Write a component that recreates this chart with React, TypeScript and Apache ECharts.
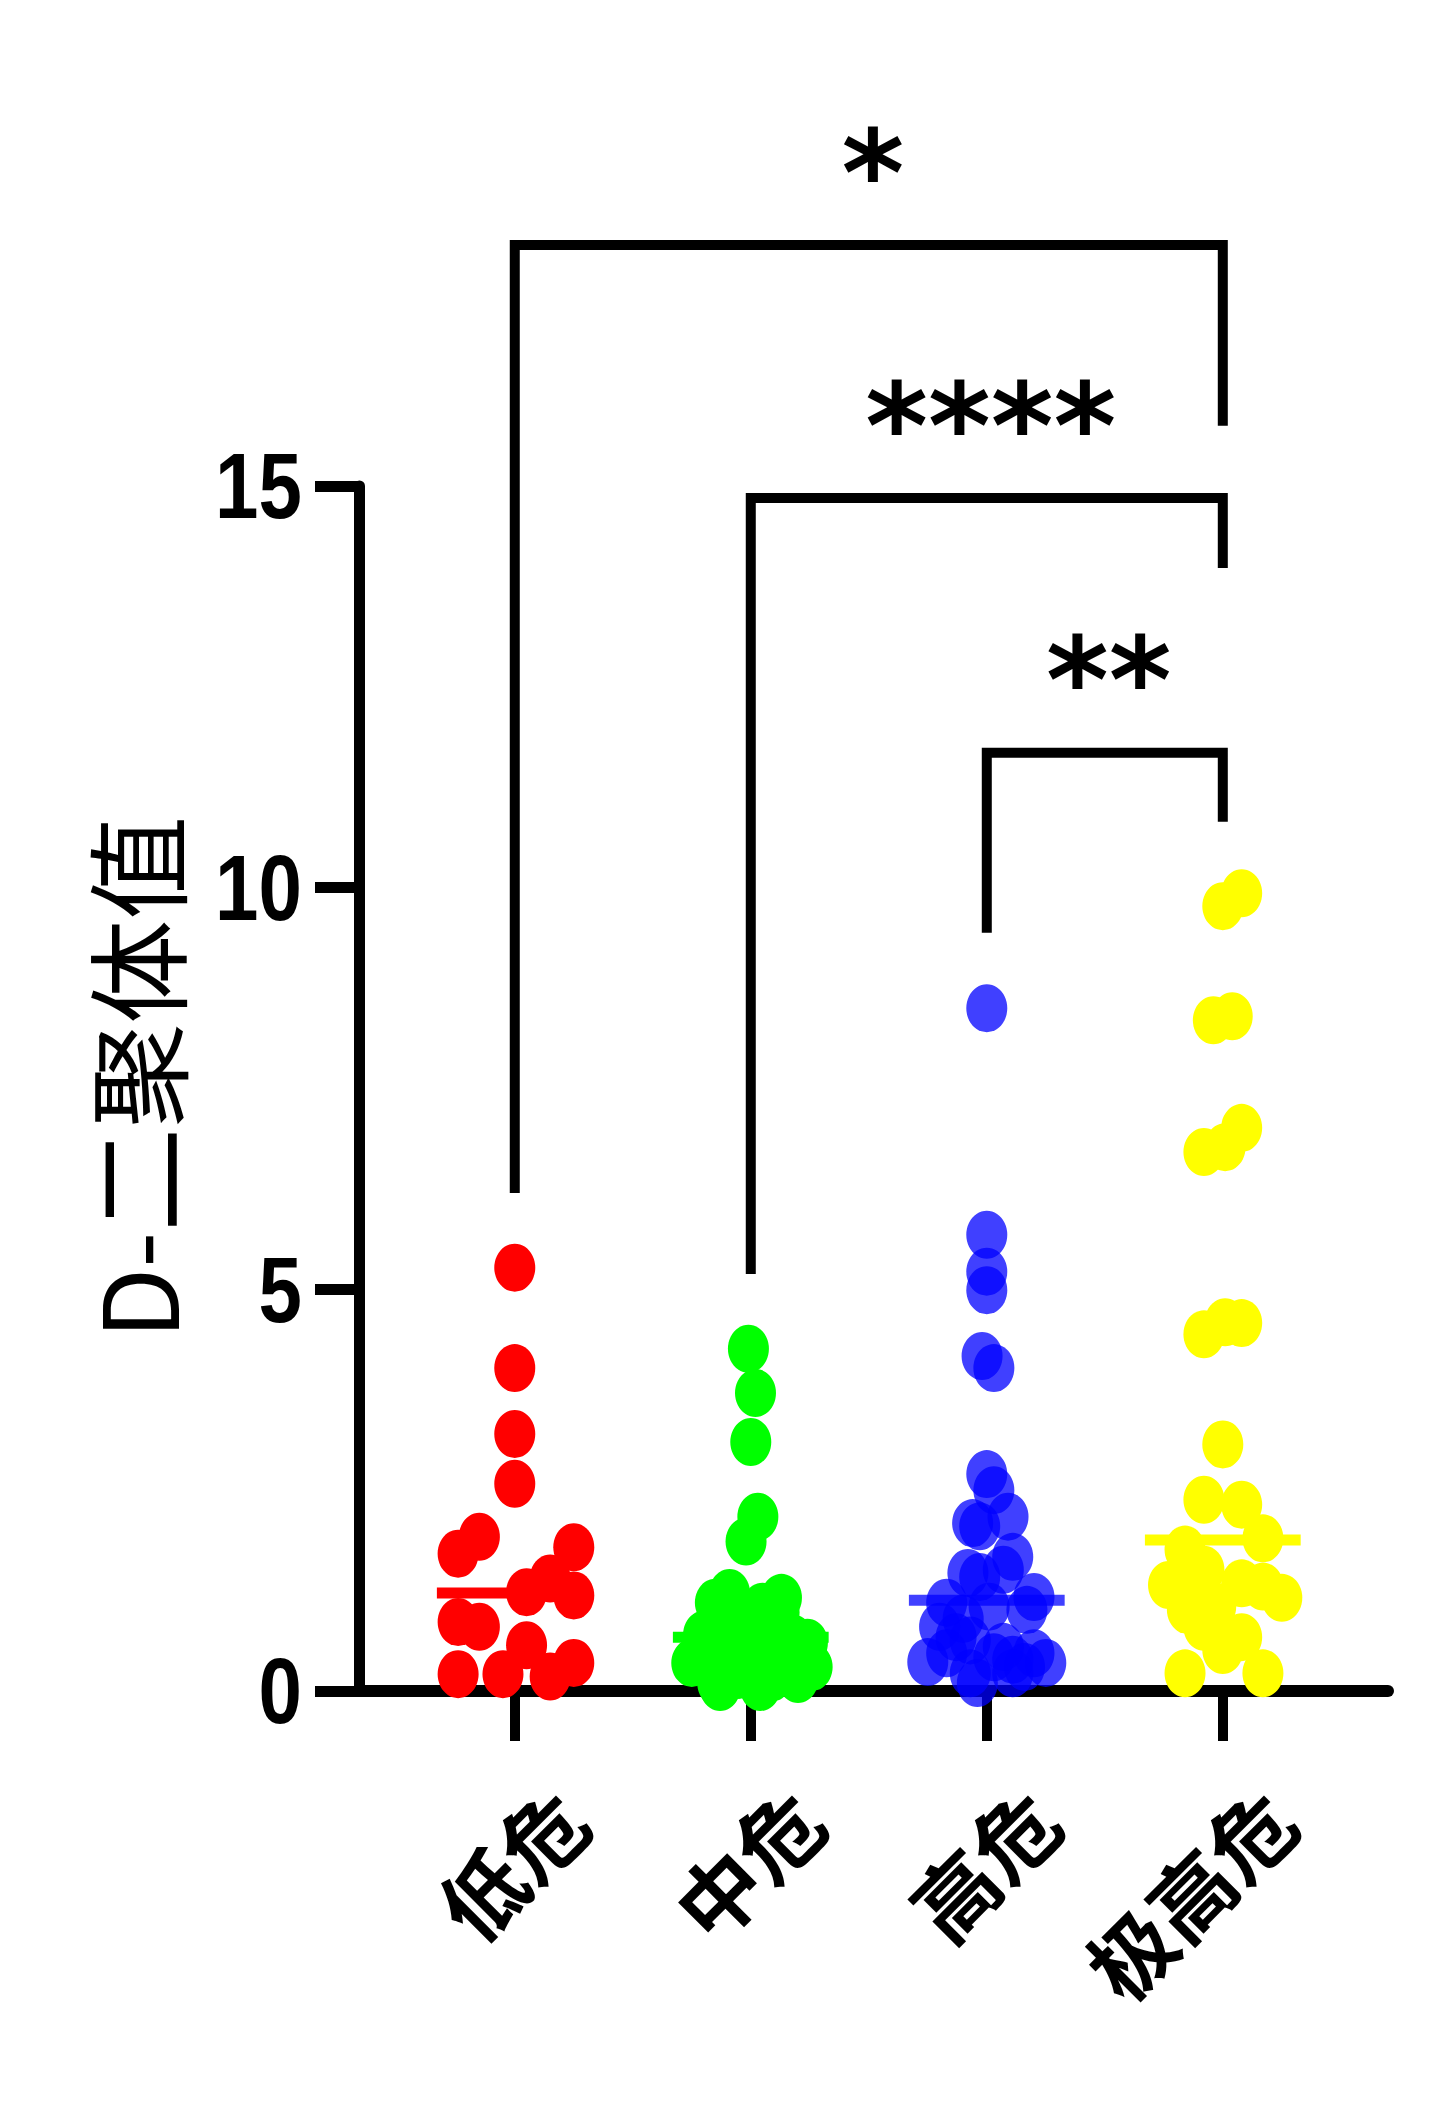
import React, { useEffect, useRef } from 'react';
import * as echarts from 'echarts';

const categories = ['低危', '中危', '高危', '极高危'];
const groupColors = ['#ff0000', '#00ff00', '#0000ff', '#ffff00'];
const groupOpacity = [1, 1, 0.75, 1];

// D-dimer values per group, with horizontal jitter (in category units)
const lowValues = [5.27, 4.02, 3.2, 2.58, 1.92, 1.71, 1.79, 1.4, 1.23, 1.19, 0.86, 0.8, 0.57, 0.21, 0.21, 0.18, 0.35];
const lowJitter = [0, 0, 0, 0, -0.15, -0.24, 0.25, 0.15, 0.05, 0.25, -0.24, -0.15, 0.05, -0.24, -0.05, 0.15, 0.25];

const midValues = [4.26, 3.71, 3.1, 2.17, 1.86, 1.22, 1.16, 1.1, 1.05, 0.98, 0.92, 0.85, 0.8, 0.75, 0.7, 0.65, 0.6, 0.55, 0.5, 0.45, 0.4, 0.35, 0.3, 0.25, 0.2, 0.17, 0.15, 0.1, 0.05, 0.05];
const midJitter = [-0.01, 0.02, 0, 0.03, -0.02, -0.09, 0.13, -0.15, 0.05, 0.12, -0.05, 0.02, -0.12, 0.08, -0.2, 0.18, 0.24, -0.1, 0, 0.1, -0.22, -0.25, 0.26, 0.15, -0.05, 0.09, 0.2, -0.14, -0.13, 0.04];

const highValues = [8.5, 5.68, 5.22, 4.99, 4.17, 4.02, 2.7, 2.5, 2.17, 2.09, 2.05, 1.67, 1.51, 1.47, 1.42, 1.17, 1.1, 1.05, 1.01, 0.9, 0.8, 0.67, 0.63, 0.55, 0.47, 0.47, 0.42, 0.39, 0.36, 0.35, 0.3, 0.22, 0.22, 0.1];
const highJitter = [0, 0, 0, 0, -0.02, 0.03, 0, 0.03, 0.09, -0.06, -0.03, 0.11, 0.07, -0.08, -0.03, 0.2, -0.17, 0.01, 0.17, -0.1, -0.2, -0.13, -0.07, 0.07, -0.17, 0.2, 0.03, 0.11, -0.25, 0.25, 0.16, -0.07, 0.11, -0.04];

const veryHighValues = [9.93, 9.77, 8.4, 8.35, 7.01, 6.77, 6.71, 4.59, 4.58, 4.44, 3.07, 2.38, 2.32, 1.9, 1.76, 1.51, 1.34, 1.32, 1.3, 1.16, 1.05, 1.01, 0.8, 0.67, 0.51, 0.22, 0.22];
const veryHighJitter = [0.08, 0, 0.04, -0.04, 0.08, 0.01, -0.08, 0.01, 0.08, -0.08, 0, -0.08, 0.08, 0.17, -0.16, -0.08, 0.08, -0.23, 0.17, 0.25, -0.03, -0.15, -0.08, 0.08, 0, -0.16, 0.17];

const groupValues = [lowValues, midValues, highValues, veryHighValues];
const groupJitter = [lowJitter, midJitter, highJitter, veryHighJitter];

// median line per group
const medians = [1.22, 0.67, 1.13, 1.88];
const medianHalfWidth = 0.33;

// y axis ticks
const yMin = 0;
const yMax = 15;
const yStep = 5;
const yTickLabels = ['0', '5', '10', '15'];
const yTickValues = [0, 5, 10, 15];

// x axis range (category index units)
const xMin = -0.66;
const xMax = 3.7;

// significance brackets
const bracketFrom = [0, 1, 2];
const bracketTo = [3, 3, 3];
const bracketTop = [18.0, 14.85, 11.68];
const bracketLeftEnd = [6.2, 5.19, 9.44];
const bracketRightEnd = [15.75, 13.98, 10.82];
const bracketStars = ['*', '****', '**'];

export default function App() {
  const ref = useRef<HTMLDivElement>(null);

  useEffect(() => {
    if (!ref.current) return;
    const chart = echarts.init(ref.current, undefined, { renderer: 'svg' });

    const series: any[] = [];

    groupValues.forEach((vals, gi) => {
      series.push({
        type: 'scatter',
        name: categories[gi],
        data: vals.map((v, i) => [gi + groupJitter[gi][i], v]),
        symbol: 'circle',
        symbolSize: [41, 48],
        itemStyle: { color: groupColors[gi], opacity: groupOpacity[gi] },
        z: 3,
        clip: false,
      });
    });

    medians.forEach((m, gi) => {
      series.push({
        type: 'line',
        data: [
          [gi - medianHalfWidth, m],
          [gi + medianHalfWidth, m],
        ],
        symbol: 'none',
        lineStyle: { color: groupColors[gi], width: 11, opacity: groupOpacity[gi], cap: 'butt' },
        z: 4,
        clip: false,
      });
    });

    bracketFrom.forEach((from, bi) => {
      const to = bracketTo[bi];
      series.push({
        type: 'line',
        data: [
          [from, bracketLeftEnd[bi]],
          [from, bracketTop[bi]],
          [to, bracketTop[bi]],
          [to, bracketRightEnd[bi]],
        ],
        symbol: 'none',
        lineStyle: { color: '#000', width: 10, cap: 'butt', join: 'miter' },
        z: 5,
        clip: false,
      });
      series.push({
        type: 'scatter',
        data: [[(from + to) / 2, bracketTop[bi], bracketStars[bi]]],
        symbolSize: 0,
        clip: false,
        z: 6,
        label: {
          show: true,
          position: 'top',
          distance: 0,
          offset: [4, -12],
          formatter: (p: any) => p.value[2],
          color: '#000000',
          opacity: 1,
          fontSize: 120,
          fontWeight: 'bold',
          fontFamily: 'DejaVu Sans, sans-serif',
        },
      });
    });

    chart.setOption({
      animation: false,
      backgroundColor: '#ffffff',
      grid: { left: 359, right: 63, top: 486, bottom: 423, containLabel: false },
      xAxis: {
        type: 'value',
        min: xMin,
        max: xMax,
        splitLine: { show: false },
        axisLine: { show: true, onZero: true, lineStyle: { color: '#000', width: 12 } },
        axisTick: {
          show: true,
          customValues: [0, 1, 2, 3],
          length: 50,
          lineStyle: { color: '#000', width: 10 },
        },
        axisLabel: {
          show: true,
          customValues: [0, 1, 2, 3],
          formatter: (v: number) => categories[Math.round(v)] ?? '',
          rotate: 45,
          margin: 57,
          verticalAlign: 'top',
          lineHeight: 156,
          fontSize: 84,
          fontWeight: 'bold',
          color: '#000',
          fontFamily: 'Noto Sans CJK SC, sans-serif',
        },
      },
      yAxis: {
        type: 'value',
        min: yMin,
        max: yMax,
        interval: yStep,
        name: 'D-二聚体值',
        nameLocation: 'middle',
        nameGap: 174,
        nameRotate: 90,
        nameTextStyle: {
          fontSize: 104,
          color: '#000',
          fontWeight: 'normal',
          fontFamily: 'Noto Sans CJK SC, sans-serif',
          padding: [0, 0, 0, 22],
        },
        splitLine: { show: false },
        axisLine: { show: true, onZero: false, lineStyle: { color: '#000', width: 11 } },
        axisTick: { show: true, length: 44, lineStyle: { color: '#000', width: 11 } },
        axisLabel: { show: false },
      },
      series,
    });

    // condensed bold tick labels of the y axis, placed through the axis scale
    const axisX = chart.convertToPixel({ xAxisIndex: 0 }, xMin) as number;
    chart.setOption({
      graphic: yTickValues.map((v, i) => ({
        type: 'text',
        x: axisX - 57,
        y: chart.convertToPixel({ yAxisIndex: 0 }, v) as number,
        scaleX: 0.84,
        style: {
          text: yTickLabels[i],
          fill: '#000',
          fontSize: 93,
          fontWeight: 'bold',
          fontFamily: 'Liberation Sans, Arial, sans-serif',
          align: 'right',
          verticalAlign: 'middle',
        },
      })),
    });

    return () => chart.dispose();
  }, []);

  return (
    <div
      ref={ref}
      style={{ position: 'absolute', left: 0, top: 0, width: 1451, height: 2114, background: '#fff' }}
    />
  );
}
